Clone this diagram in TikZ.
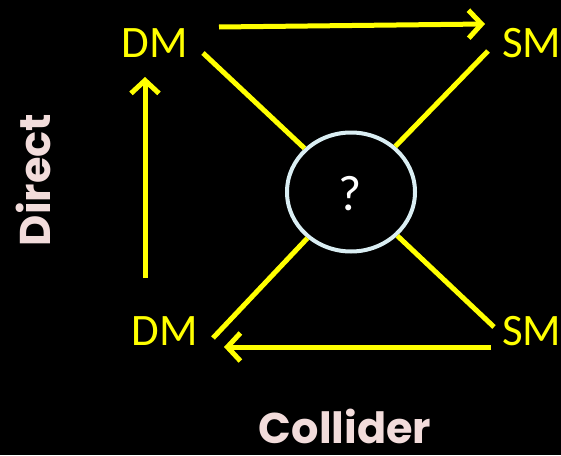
\documentclass[tikz,border=0pt]{standalone}
\usepackage{fontspec}
\setmainfont{Carlito}
\newfontfamily\labelfont{Poppins}
\usetikzlibrary{arrows.meta,shapes.geometric}
\definecolor{ylw}{RGB}{255,255,0}
\definecolor{pinkl}{RGB}{242,220,219}
\definecolor{ringc}{RGB}{218,238,243}
\tikzset{
  particle/.style={text=ylw,font=\fontsize{45}{50}\selectfont,inner sep=0pt,anchor=center},
  yline/.style={draw=ylw,line width=5pt},
  yarrow/.style={yline,-{Straight Barb[length=13pt,width=28pt,line width=5pt]}},
  side/.style={text=pinkl,font=\labelfont\bfseries\fontsize{43}{48}\selectfont,inner sep=0pt},
}
\begin{document}
\begin{tikzpicture}[x=1pt,y=-1pt]
\fill[black] (0,0) rectangle (561,455);
\useasboundingbox (0,0) rectangle (561,455);
\node[particle] (dmt) at (155,43) {DM};
\node[particle,anchor=west] (smt) at (502,43) {SM};
\node[particle] (dmb) at (165,331) {DM};
\node[particle,anchor=west] (smb) at (502,331) {SM};
\node[draw=ringc,line width=4pt,ellipse,minimum width=128pt,minimum height=119pt,inner sep=0pt] (q) at (351,192) {};
\node[text=white,font=\fontsize{50}{56}\selectfont,inner sep=0pt] (qm) at (350,194) {?};
\node[side,rotate=90] (direct) at (33,180) {Direct};
\node[side,anchor=base,text depth=0pt] (collider) at (345,443) {Collider};
% connector ends
\coordinate (a1) at (219,27);
\coordinate (a2) at (485,24);
\coordinate (b1) at (491,347);
\coordinate (b2) at (224,347);
\coordinate (c1) at (145,278);
\coordinate (c2) at (145,77);
\coordinate (d1) at (203,53);
\coordinate (d2) at (488,51);
\coordinate (d3) at (213,338);
\coordinate (d4) at (494,327);
\draw[yarrow] (a1) -- (a2);
\draw[yarrow] (b1) -- (b2);
\draw[yarrow] (c1) -- (c2);
\draw[yline] (d1) -- (q);
\draw[yline] (d2) -- (q);
\draw[yline] (d3) -- (q);
\draw[yline] (d4) -- (q);
\end{tikzpicture}
\end{document}
